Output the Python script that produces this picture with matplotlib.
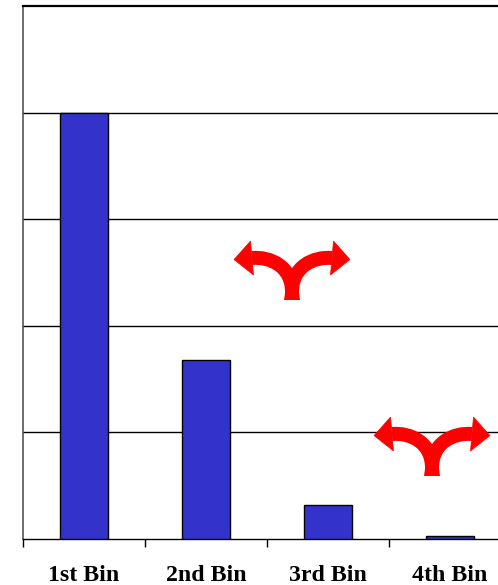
import math
import matplotlib
matplotlib.use("Agg")
import matplotlib.pyplot as plt
from matplotlib.path import Path
from matplotlib.patches import PathPatch, Polygon

# Chart data
categories = ["1st Bin", "2nd Bin", "3rd Bin", "4th Bin"]
values = [4.0, 1.68, 0.32, 0.025]
y_max = 5
grid_levels = [1, 2, 3, 4]

W, H = 498, 585
DPI = 100
fig = plt.figure(figsize=(W / DPI, H / DPI), dpi=DPI)
fig.patch.set_facecolor("white")

# Plot area: the last category runs past the right edge of the canvas
left_px, top_px, bottom_px, cat_px = 23, 6, 539, 122
ax = fig.add_axes([left_px / W, (H - bottom_px) / H,
                   cat_px * len(categories) / W, (bottom_px - top_px) / H])

x = list(range(len(categories)))
ax.bar(x, values, width=0.4, color="#3333CC", edgecolor="black",
       linewidth=1.0, zorder=3)

ax.set_xlim(-0.5, len(categories) - 0.5)
ax.set_ylim(0, y_max)

for g in grid_levels:
    ax.axhline(g, color="black", linewidth=1.0, zorder=1)

ax.set_yticks([])
ax.set_xticks(x)
ax.set_xticklabels(categories, fontfamily="Liberation Serif",
                   fontweight="bold", fontsize=17.2)
ax.tick_params(axis="x", which="major", length=0, pad=19)
ax.set_xticks([i - 0.5 for i in range(len(categories) + 1)], minor=True)
ax.tick_params(axis="x", which="minor", length=6, width=1.0,
               color="black", direction="out")

ax.spines["right"].set_visible(False)
ax.spines["top"].set_linewidth(1.6)
ax.spines["top"].set_color("black")
ax.spines["left"].set_color("#555555")
ax.spines["left"].set_linewidth(1.2)
ax.spines["bottom"].set_color("black")
ax.spines["bottom"].set_linewidth(1.0)

# Overlay in pixel units for the forked arrows
ov = fig.add_axes([0, 0, 1, 1])
ov.set_xlim(0, W)
ov.set_ylim(H, 0)
ov.axis("off")
ov.patch.set_alpha(0)

RED = "#FF0000"
PX = 72 / DPI


def fork_arrow(cx, by):
    """Two curved red arrows springing from one stem at (cx, by)."""
    tilt = math.radians(5)
    for s in (-1, 1):
        dx, dy = s * math.cos(tilt), math.sin(tilt)   # head direction (y down)
        nx, ny = -dy, dx
        ex, ey = cx + s * 40, by - 42                 # end of curved shaft
        verts = [(cx, by), (cx, by - 8),
                 (cx, by - 34), (ex - dx * 18, ey - dy * 18), (ex, ey)]
        codes = [Path.MOVETO, Path.LINETO,
                 Path.CURVE4, Path.CURVE4, Path.CURVE4]
        ov.add_patch(PathPatch(Path(verts, codes), facecolor="none",
                               edgecolor=RED, linewidth=14 * PX,
                               capstyle="butt", joinstyle="round"))
        tip = (ex + dx * 18, ey + dy * 18)
        ov.add_patch(Polygon([(ex + nx * 17, ey + ny * 17), tip,
                              (ex - nx * 17, ey - ny * 17)], closed=True,
                             facecolor=RED, edgecolor=RED, linewidth=0.5))
    # slightly wider base of the stem
    ov.add_patch(Polygon([(cx - 8, by), (cx + 8, by), (cx + 6, by - 14),
                          (cx - 6, by - 14)], closed=True,
                         facecolor=RED, edgecolor="none"))


fork_arrow(292, 300)
fork_arrow(432, 476)

fig.savefig("out.png", dpi=DPI, facecolor="white")
